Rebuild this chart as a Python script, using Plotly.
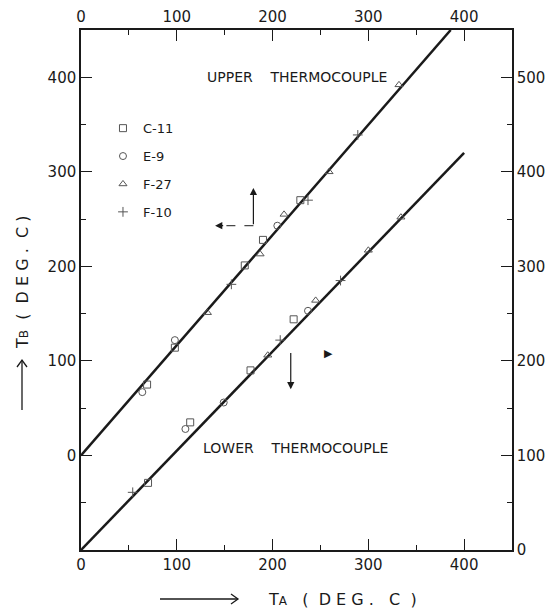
import plotly.graph_objects as go

# specimens (legend order)
specimens = ["C-11", "E-9", "F-27", "F-10"]
symbols = ["square-open", "circle-open", "triangle-up-open", "cross-thin-open"]

# upper thermocouple readings, TA vs TB (left axis)
upper_x = {
    "C-11": [69, 98, 171, 190, 229],
    "E-9": [64, 98, 205],
    "F-27": [132, 187, 212, 259, 332],
    "F-10": [157, 237, 289],
}
upper_y = {
    "C-11": [75, 114, 201, 228, 270],
    "E-9": [67, 122, 243],
    "F-27": [151, 213, 255, 300, 392],
    "F-10": [181, 270, 339],
}

# lower thermocouple readings, TA vs TB (right axis)
lower_x = {
    "C-11": [70, 114, 177, 222],
    "E-9": [109, 149, 237],
    "F-27": [195, 245, 300, 334],
    "F-10": [54, 208, 271],
}
lower_y = {
    "C-11": [71, 135, 190, 244],
    "E-9": [128, 156, 253],
    "F-27": [206, 264, 317, 352],
    "F-10": [61, 222, 285],
}

# fitted lines
upper_fit_x = [0, 386]
upper_fit_y = [0, 450]
lower_fit_x = [0, 400]
lower_fit_y = [0, 420]

font = "DejaVu Sans"
ink = "#1a1a1a"

fig = go.Figure()

fig.add_trace(go.Scatter(
    x=upper_fit_x, y=upper_fit_y, mode="lines",
    line={"color": ink, "width": 2.5}, showlegend=False, hoverinfo="skip",
))
fig.add_trace(go.Scatter(
    x=lower_fit_x, y=lower_fit_y, mode="lines", xaxis="x2", yaxis="y2",
    line={"color": ink, "width": 2.5}, showlegend=False, hoverinfo="skip",
))

for name, sym in zip(specimens, symbols):
    fig.add_trace(go.Scatter(
        x=upper_x[name], y=upper_y[name], mode="markers", name=name,
        legendgroup=name,
        marker={"symbol": sym, "size": 7, "color": "#555",
                "line": {"width": 1, "color": "#555"}},
    ))
    fig.add_trace(go.Scatter(
        x=lower_x[name], y=lower_y[name], mode="markers", name=name,
        legendgroup=name, showlegend=False, xaxis="x2", yaxis="y2",
        marker={"symbol": sym, "size": 7, "color": "#555",
                "line": {"width": 1, "color": "#555"}},
    ))

# direction arrows inside the plot
fig.add_shape(type="line", x0=180, y0=243, x1=146, y1=243,
              line={"color": ink, "width": 1, "dash": "dash"})
fig.add_annotation(x=140, y=243, ax=150, ay=243, axref="x", ayref="y",
                   text="", showarrow=True, arrowhead=2, arrowsize=1.2,
                   arrowwidth=1.2, arrowcolor=ink)
fig.add_annotation(x=180, y=283, ax=180, ay=243, axref="x", ayref="y",
                   text="", showarrow=True, arrowhead=2, arrowsize=1.2,
                   arrowwidth=1.2, arrowcolor=ink)
fig.add_annotation(x=219, y=70, ax=219, ay=110, axref="x", ayref="y",
                   text="", showarrow=True, arrowhead=2, arrowsize=1.2,
                   arrowwidth=1.2, arrowcolor=ink)
fig.add_annotation(x=258, y=108, text="\u25B6", showarrow=False,
                   font={"size": 11, "color": ink, "family": font})

fig.add_annotation(x=226, y=400,
                   text="UPPER&nbsp;&nbsp;&nbsp;&nbsp;THERMOCOUPLE",
                   showarrow=False, font={"size": 14, "color": ink, "family": font})
fig.add_annotation(x=224, y=8,
                   text="LOWER&nbsp;&nbsp;&nbsp;&nbsp;THERMOCOUPLE",
                   showarrow=False, font={"size": 14, "color": ink, "family": font})

# axis titles: arrow drawn with shapes, label as text
W, H = 431, 520  # plot area in px


def px_x(px):
    return (px - 81) / W


def px_y(py):
    return (550 - py) / H


sp = "&nbsp;"
bottom_title = ("T<span style='font-size:12px'>A</span>" + sp * 3 + "(" + sp * 2
                + "D E G ." + sp * 3 + "C" + sp * 2 + ")")
left_title = ("T<span style='font-size:12px'>B</span>" + sp * 2 + "(" + sp * 2
              + "D E G ." + sp * 2 + "C" + sp + ")")

arrow_line = {"color": ink, "width": 1.3}
fig.add_shape(type="line", xref="paper", yref="paper",
              x0=px_x(160), y0=px_y(599), x1=px_x(238), y1=px_y(599), line=arrow_line)
fig.add_shape(type="path", xref="paper", yref="paper",
              path=f"M {px_x(231)} {px_y(594)} L {px_x(238)} {px_y(599)} L {px_x(231)} {px_y(604)}",
              line=arrow_line)
fig.add_annotation(
    xref="paper", yref="paper", x=px_x(342), y=px_y(599),
    xanchor="center", yanchor="middle", text=bottom_title,
    showarrow=False, font={"size": 16, "color": ink, "family": font},
)

fig.add_shape(type="line", xref="paper", yref="paper",
              x0=px_x(22), y0=px_y(410), x1=px_x(22), y1=px_y(360), line=arrow_line)
fig.add_shape(type="path", xref="paper", yref="paper",
              path=f"M {px_x(17)} {px_y(367)} L {px_x(22)} {px_y(360)} L {px_x(27)} {px_y(367)}",
              line=arrow_line)
fig.add_annotation(
    xref="paper", yref="paper", x=px_x(22), y=px_y(283), textangle=-90,
    xanchor="center", yanchor="middle", text=left_title,
    showarrow=False, font={"size": 16, "color": ink, "family": font},
)

axis_common = dict(
    showline=True, linecolor=ink, linewidth=1.5, showgrid=False,
    zeroline=False, automargin=False,
    ticks="inside", ticklen=11, tickcolor=ink, tickwidth=1,
    tickfont={"size": 15, "color": ink, "family": font},
    minor={"ticks": "inside", "ticklen": 5, "dtick": 50, "tickcolor": ink},
)

fig.update_layout(
    width=550, height=613,
    margin={"l": 81, "r": 38, "t": 30, "b": 63},
    paper_bgcolor="white", plot_bgcolor="white",
    xaxis=dict(range=[0, 450], tickvals=[0, 100, 200, 300, 400], **axis_common),
    xaxis2=dict(range=[0, 450], tickvals=[0, 100, 200, 300, 400],
                overlaying="x", side="top", anchor="y2", matches="x",
                **axis_common),
    yaxis=dict(range=[-100, 450], tickvals=[0, 100, 200, 300, 400], **axis_common),
    yaxis2=dict(range=[0, 550], tickvals=[0, 100, 200, 300, 400, 500],
                overlaying="y", side="right", anchor="x", **axis_common),
    legend=dict(x=0.051, y=0.84, xanchor="left", yanchor="top",
                bgcolor="rgba(0,0,0,0)", tracegroupgap=8,
                font={"size": 13, "color": ink, "family": font}),
    showlegend=True,
)

# page has a default body margin; remove it so the figure sits at the corner
fig.write_html("out.html", config={"displayModeBar": False},
               post_script="document.body.style.margin='0';document.body.style.overflow='hidden';")
